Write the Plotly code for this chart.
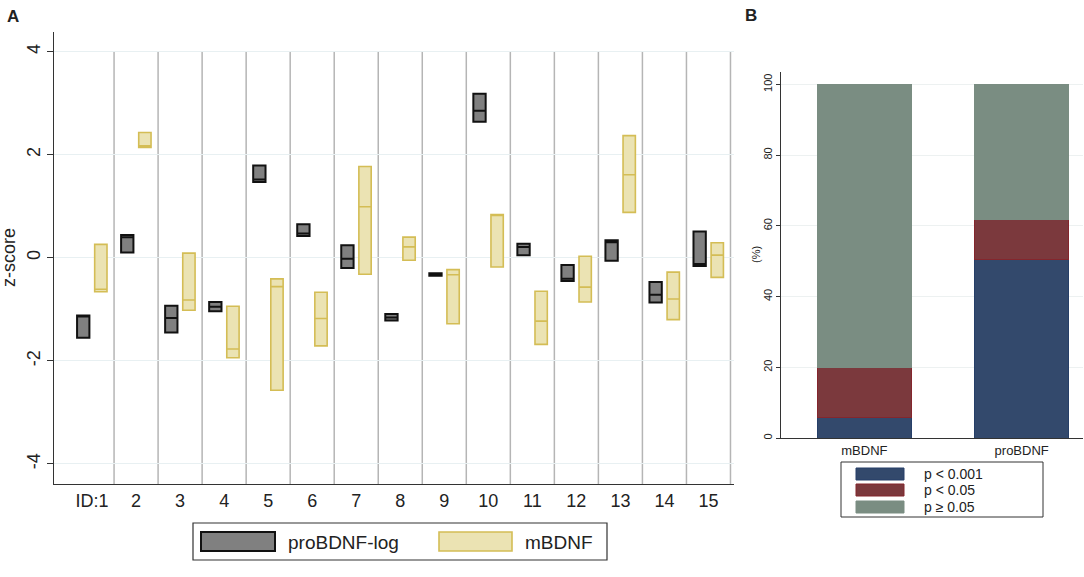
import plotly.graph_objects as go

# panel A: per-subject z-score boxes (q1 / median / q3)
ids = list(range(1, 16))
id_labels = ["ID:1"] + [str(i) for i in range(2, 16)]

pro_name = "proBDNF-log"
pro_q1 = [-1.55, 0.10, -1.45, -1.04, 1.47, 0.42, -0.20, -1.22, -0.35, 2.64, 0.05, -0.45, -0.06, -0.87, -0.16]
pro_med = [-1.14, 0.40, -1.17, -0.95, 1.52, 0.47, -0.02, -1.16, -0.32, 2.85, 0.21, -0.41, 0.30, -0.72, -0.12]
pro_q3 = [-1.12, 0.44, -0.93, -0.86, 1.79, 0.65, 0.24, -1.09, -0.30, 3.18, 0.27, -0.14, 0.34, -0.47, 0.51]

m_name = "mBDNF"
m_q1 = [-0.66, 2.14, -1.02, -1.94, -2.57, -1.71, -0.32, -0.05, -1.28, -0.18, -1.68, -0.86, 0.88, -1.20, -0.38]
m_med = [-0.61, 2.17, -0.82, -1.77, -0.56, -1.18, 0.99, 0.21, -0.33, 0.83, -1.23, -0.57, 1.61, -0.80, 0.05]
m_q3 = [0.26, 2.43, 0.09, -0.94, -0.41, -0.67, 1.77, 0.40, -0.23, 0.84, -0.65, 0.03, 2.37, -0.28, 0.29]

z_ticks = [-4, -2, 0, 2, 4]

# panel B: share of significant comparisons (%)
groups = ["mBDNF", "proBDNF"]
sig_names = ["p < 0.001", "p < 0.05", "p \u2265 0.05"]
sig_vals = [
    [5.7, 50.5],
    [14.3, 11.4],
    [80.0, 38.1],
]
pct_ticks = [0, 20, 40, 60, 80, 100]

W, H = 1084, 577
FONT = "Liberation Sans, Arial, sans-serif"
sig_colors = ["#33496c", "#7b393d", "#7a8d82"]
sig_lines = ["#263f68", "#84262d", "#7a8d82"]


def px(x):
    return x / W


def py(y):
    return 1 - y / H


fig = go.Figure()

fig.add_trace(go.Box(
    x=ids, q1=pro_q1, median=pro_med, q3=pro_q3,
    lowerfence=pro_q1, upperfence=pro_q3,
    name=pro_name, fillcolor="#808080",
    line=dict(color="#111111", width=2), whiskerwidth=0,
    xaxis="x", yaxis="y", showlegend=False,
))
fig.add_trace(go.Box(
    x=ids, q1=m_q1, median=m_med, q3=m_q3,
    lowerfence=m_q1, upperfence=m_q3,
    name=m_name, fillcolor="#ebe3b3",
    line=dict(color="#d4bd55", width=1.6), whiskerwidth=0,
    xaxis="x", yaxis="y", showlegend=False,
))

for name, vals, col, lc in zip(sig_names, sig_vals, sig_colors, sig_lines):
    fig.add_trace(go.Bar(
        x=groups, y=vals, name=name, width=0.6,
        marker=dict(color=col, line=dict(color=lc, width=1)),
        xaxis="x2", yaxis="y2", showlegend=False,
    ))

shapes = []
# separators between subjects
for i in ids:
    shapes.append(dict(type="line", xref="x", yref="y", x0=i + 0.5, x1=i + 0.5,
                       y0=-4.4, y1=4, line=dict(color="#b5b5b5", width=1.5), layer="below"))

# legend A
shapes.append(dict(type="rect", xref="paper", yref="paper",
                   x0=px(193), x1=px(607), y0=py(560), y1=py(523),
                   line=dict(color="#333333", width=1.2)))
shapes.append(dict(type="rect", xref="paper", yref="paper",
                   x0=px(201), x1=px(275), y0=py(551), y1=py(532),
                   fillcolor="#808080", line=dict(color="#111111", width=2)))
shapes.append(dict(type="rect", xref="paper", yref="paper",
                   x0=px(439), x1=px(512), y0=py(551), y1=py(532),
                   fillcolor="#ebe3b3", line=dict(color="#d4bd55", width=1.6)))

# legend B
shapes.append(dict(type="rect", xref="paper", yref="paper",
                   x0=px(841), x1=px(1043), y0=py(517), y1=py(462),
                   line=dict(color="#333333", width=1)))
row_y = [474, 490, 507]
for ry, col, lc in zip(row_y, sig_colors, sig_lines):
    shapes.append(dict(type="rect", xref="paper", yref="paper",
                       x0=px(856), x1=px(904), y0=py(ry + 6), y1=py(ry - 6),
                       fillcolor=col, line=dict(color=lc, width=1)))


def note(text, x, y, size, xanchor="center", angle=0):
    return dict(text=text, x=px(x), y=py(y), xref="paper", yref="paper",
                xanchor=xanchor, yanchor="middle", showarrow=False,
                textangle=angle, font=dict(size=size, color="#222222"))


annotations = [
    note("<b>A</b>", 13, 17, 17),
    note("<b>B</b>", 751, 16, 17),
    note("z-score", 9, 258, 18, angle=-90),
    note("(%)", 756, 255, 11, angle=-90),
    note(pro_name, 286, 542, 19, xanchor="left"),
    note(m_name, 523, 542, 19, xanchor="left"),
]
for ry, name in zip(row_y, sig_names):
    annotations.append(note(name, 922, ry, 14, xanchor="left"))

fig.update_layout(
    width=W, height=H,
    margin=dict(l=0, r=0, t=0, b=0),
    paper_bgcolor="white", plot_bgcolor="white",
    font=dict(family=FONT, color="#222222"),
    boxmode="group", boxgap=0.2, boxgroupgap=0.3,
    barmode="stack",
    shapes=shapes, annotations=annotations,
    xaxis=dict(
        domain=[px(54), px(734)], anchor="y",
        range=[0.136, 15.58],
        tickvals=ids, ticktext=id_labels, ticks="",
        tickfont=dict(size=18), showgrid=False, zeroline=False,
        showline=True, linecolor="#333333", linewidth=1.3,
    ),
    yaxis=dict(
        domain=[py(484), py(32)], anchor="x",
        range=[-4.39, 4.38],
        tickvals=z_ticks, ticktext=[str(t) for t in z_ticks],
        tickangle=-90, ticks="outside", ticklen=6, tickcolor="#333333",
        tickfont=dict(size=18),
        showgrid=True, gridcolor="#e8f0f2", gridwidth=1.3, zeroline=False,
        showline=True, linecolor="#333333", linewidth=1.3,
    ),
    xaxis2=dict(
        domain=[px(781), px(1083)], anchor="y2",
        range=[-0.53, 1.39], ticks="",
        tickfont=dict(size=13), showgrid=False, zeroline=False,
        showline=True, linecolor="#333333", linewidth=1.2,
    ),
    yaxis2=dict(
        domain=[py(438), py(72)], anchor="x2",
        range=[0, 103.5],
        tickvals=pct_ticks, tickangle=-90,
        ticks="outside", ticklen=4, tickcolor="#333333",
        tickfont=dict(size=11),
        showgrid=True, gridcolor="#edf1f1", gridwidth=1, zeroline=False,
        showline=True, linecolor="#333333", linewidth=1.2,
    ),
)

fig.write_html("out.html", config={"displayModeBar": False},
               post_script="document.body.style.margin='0';")
